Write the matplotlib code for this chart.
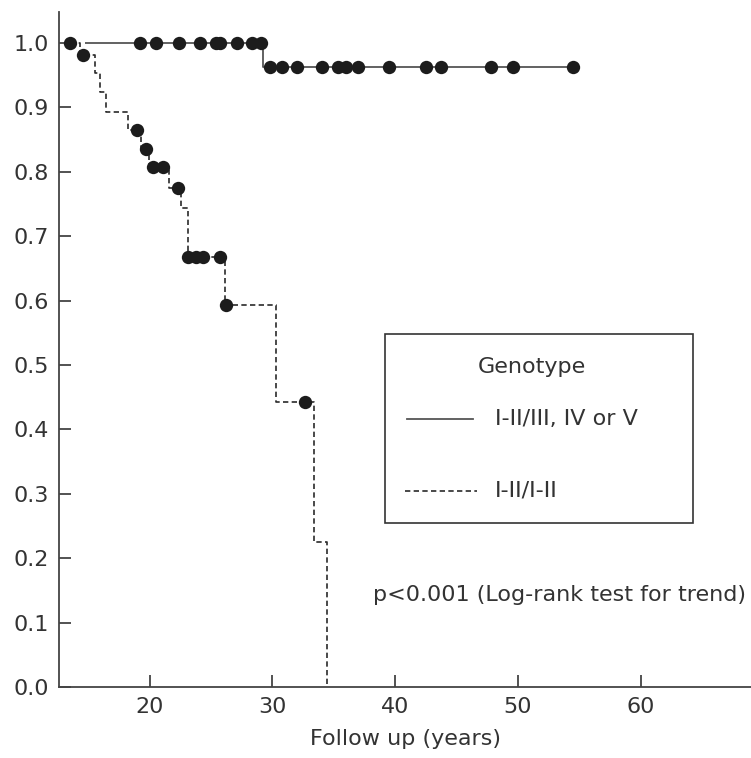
import numpy as np
import matplotlib
matplotlib.use("Agg")
import matplotlib.pyplot as plt
from matplotlib.patches import Rectangle
from matplotlib.lines import Line2D

# Kaplan-Meier curve for genotype I-II/III, IV or V (event times, survival after each)
solid_times = [14.7, 29.25]
solid_surv = [1.0, 0.963]
solid_end = 54.5
solid_censored = [19.19, 20.49, 22.39, 24.07, 25.38, 25.70, 27.11, 28.29, 29.10,
                  29.78, 30.75, 32.0, 34.07, 35.34, 36.02, 36.97, 39.50, 42.48,
                  43.76, 47.84, 49.60, 54.49]

# Kaplan-Meier curve for genotype I-II/I-II
dashed_times = [13.5, 14.30, 15.52, 15.93, 16.47, 18.21, 19.32, 19.90, 21.57,
                22.58, 23.12, 26.11, 30.32, 33.36, 34.42]
dashed_surv = [1.0, 0.981, 0.953, 0.924, 0.893, 0.865, 0.836, 0.808, 0.774,
               0.743, 0.667, 0.593, 0.443, 0.225, 0.0]
dashed_censored = [13.5, 14.52, 18.92, 19.73, 20.27, 21.08, 22.31, 23.12, 23.80,
                   24.34, 25.70, 26.25, 32.63]

y_ticks = [0.0, 0.1, 0.2, 0.3, 0.4, 0.5, 0.6, 0.7, 0.8, 0.9, 1.0]
x_ticks = [20, 30, 40, 50, 60]

legend_title = "Genotype"
legend_labels = ["I-II/III, IV or V", "I-II/I-II"]
p_text = "p<0.001 (Log-rank test for trend)"

W, H = 751, 758
TXT = "#333333"
FS = 16

plt.rcParams["font.family"] = ["DejaVu Sans"]

fig = plt.figure(figsize=(W / 100, H / 100), dpi=100)
ax = fig.add_axes([59 / W, (H - 687) / H, (W - 59) / W, (687 - 12) / H])


def step_value(times, surv, t):
    idx = np.searchsorted(times, t, side="right") - 1
    return np.asarray(surv)[np.clip(idx, 0, len(surv) - 1)]


# solid curve
st = list(solid_times) + [solid_end]
ss = list(solid_surv) + [solid_surv[-1]]
ax.step(st, ss, where="post", color="#555555", lw=1.3, solid_capstyle="butt", zorder=2)

# dashed curve (final drop down to the axis)
ax.step(dashed_times, dashed_surv, where="post", color="#2a2a2a", lw=1.2,
        linestyle=(0, (3.2, 2.0)), zorder=2)

# censoring marks
ax.plot(solid_censored, step_value(solid_times, solid_surv, solid_censored),
        "o", color="#1c1c1c", ms=9.6, mew=0, zorder=3)
ax.plot(dashed_censored, step_value(dashed_times, dashed_surv, dashed_censored),
        "o", color="#1c1c1c", ms=9.6, mew=0, zorder=3)

ax.set_xlim(12.6, 69.0)
ax.set_ylim(0, 1.048)
ax.set_xticks(x_ticks)
ax.set_xticklabels([str(v) for v in x_ticks])
ax.set_yticks(y_ticks)
ax.set_yticklabels([f"{v:.1f}" for v in y_ticks])

for s in ["top", "right"]:
    ax.spines[s].set_visible(False)
for s in ["left", "bottom"]:
    ax.spines[s].set_color("#444444")
    ax.spines[s].set_linewidth(1.3)

ax.tick_params(direction="in", length=8.5, width=1.3, color="#444444",
               labelsize=FS, labelcolor=TXT)
ax.tick_params(axis="y", pad=7)
ax.tick_params(axis="x", pad=7)
ax.set_xlabel("Follow up (years)", fontsize=FS, color=TXT, labelpad=9)


def fx(x):
    return x / W


def fy(y):
    return 1 - y / H


# legend box
fig.patches.append(Rectangle((fx(385), fy(523)), fx(693) - fx(385), fy(334) - fy(523),
                             transform=fig.transFigure, fill=False,
                             edgecolor="#333333", lw=1.2))
fig.text(fx(532), fy(367), legend_title, ha="center", va="center",
         fontsize=FS, color=TXT)
fig.lines.append(Line2D([fx(407), fx(473)], [fy(419), fy(419)],
                        transform=fig.transFigure, color="#555555", lw=1.3))
fig.lines.append(Line2D([fx(405), fx(477)], [fy(491), fy(491)],
                        transform=fig.transFigure, color="#2a2a2a", lw=1.2,
                        linestyle=(0, (3.2, 2.0))))
fig.text(fx(495), fy(419), legend_labels[0], ha="left", va="center",
         fontsize=FS, color=TXT)
fig.text(fx(495), fy(490), legend_labels[1], ha="left", va="center",
         fontsize=FS, color=TXT)

fig.text(fx(746), fy(595), p_text, ha="right", va="center", fontsize=FS, color=TXT)

fig.savefig("out.png", dpi=100)
